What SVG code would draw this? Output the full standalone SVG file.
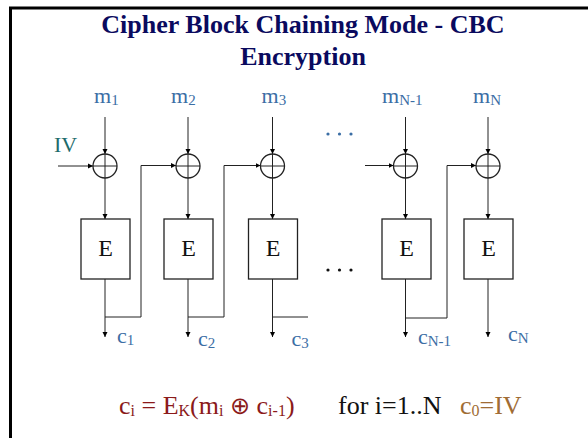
<svg xmlns="http://www.w3.org/2000/svg" width="588" height="438" viewBox="0 0 588 438">
<defs>
<marker id="ah" markerWidth="6" markerHeight="6" refX="5" refY="3" orient="auto" markerUnits="userSpaceOnUse">
<path d="M0,0.5 L5,3 L0,5.5 Z" fill="#000"/>
</marker>
<style>
.t{font-family:"Liberation Serif","Times New Roman",serif}
.title{font-size:26px;font-weight:bold;fill:#0a0a5e;text-anchor:middle}
.lab{font-size:22px;fill:#3b6ea5}
.sub{font-size:15px}
.ln{stroke:#222;stroke-width:1;fill:none}
.box{stroke:#222;stroke-width:1.3;fill:#fff}
.xor{stroke:#222;stroke-width:1.3;fill:#fff}
.e{font-size:24px;fill:#111;text-anchor:middle}
</style>
</defs>
<rect x="0" y="0" width="588" height="438" fill="#fff"/>
<rect x="10.5" y="8" width="620" height="460" fill="none" stroke="#000" stroke-width="3"/>
<g id="title" class="t title">
<text x="303" y="33">Cipher Block Chaining Mode - CBC</text>
<text x="303" y="65">Encryption</text>
</g>
<g id="connectors">
<line class="ln" x1="105" y1="117" x2="105" y2="154" marker-end="url(#ah)"/>
<line class="ln" x1="188" y1="117" x2="188" y2="154" marker-end="url(#ah)"/>
<line class="ln" x1="272.5" y1="117" x2="272.5" y2="154" marker-end="url(#ah)"/>
<line class="ln" x1="405.5" y1="117" x2="405.5" y2="154" marker-end="url(#ah)"/>
<line class="ln" x1="488" y1="117" x2="488" y2="154" marker-end="url(#ah)"/>
<line class="ln" x1="105" y1="178" x2="105" y2="219" marker-end="url(#ah)"/>
<line class="ln" x1="188" y1="178" x2="188" y2="219" marker-end="url(#ah)"/>
<line class="ln" x1="272.5" y1="178" x2="272.5" y2="219" marker-end="url(#ah)"/>
<line class="ln" x1="405.5" y1="178" x2="405.5" y2="219" marker-end="url(#ah)"/>
<line class="ln" x1="488" y1="178" x2="488" y2="219" marker-end="url(#ah)"/>
<line class="ln" x1="105" y1="279" x2="105" y2="337" marker-end="url(#ah)"/>
<line class="ln" x1="188" y1="279" x2="188" y2="337" marker-end="url(#ah)"/>
<line class="ln" x1="272.5" y1="279" x2="272.5" y2="337" marker-end="url(#ah)"/>
<line class="ln" x1="405.5" y1="279" x2="405.5" y2="337" marker-end="url(#ah)"/>
<line class="ln" x1="488" y1="279" x2="488" y2="337" marker-end="url(#ah)"/>
<line class="ln" x1="58" y1="166" x2="93" y2="166" marker-end="url(#ah)"/>
<polyline class="ln" points="105,317 141,317 141,165.5 176,165.5" marker-end="url(#ah)"/>
<polyline class="ln" points="188,317 224,317 224,165.5 260.5,165.5" marker-end="url(#ah)"/>
<line class="ln" x1="272.5" y1="317" x2="308" y2="317"/>
<line class="ln" x1="365" y1="165.5" x2="393.5" y2="165.5" marker-end="url(#ah)"/>
<polyline class="ln" points="405.5,318 447,318 447,165.5 476,165.5" marker-end="url(#ah)"/>
</g>
<g id="xor1"><circle class="xor" cx="105" cy="166" r="12"/><path class="ln" d="M93,166H117M105,154V178"/></g>
<g id="xor2"><circle class="xor" cx="188" cy="166" r="12"/><path class="ln" d="M176,166H200M188,154V178"/></g>
<g id="xor3"><circle class="xor" cx="272.5" cy="166" r="12"/><path class="ln" d="M260.5,166H284.5M272.5,154V178"/></g>
<g id="xorN1"><circle class="xor" cx="405.5" cy="166" r="12"/><path class="ln" d="M393.5,166H417.5M405.5,154V178"/></g>
<g id="xorN"><circle class="xor" cx="488" cy="166" r="12"/><path class="ln" d="M476,166H500M488,154V178"/></g>
<g id="E1"><rect class="box" x="81" y="219" width="49" height="60"/><text class="t e" x="105.5" y="256">E</text></g>
<g id="E2"><rect class="box" x="164" y="219" width="49" height="60"/><text class="t e" x="188.5" y="256">E</text></g>
<g id="E3"><rect class="box" x="248.5" y="219" width="49" height="60"/><text class="t e" x="273" y="256">E</text></g>
<g id="EN1"><rect class="box" x="382" y="219" width="49" height="60"/><text class="t e" x="406.5" y="256">E</text></g>
<g id="EN"><rect class="box" x="464" y="219" width="49" height="60"/><text class="t e" x="488.5" y="256">E</text></g>
<g id="mlabels" class="t lab">
<text x="94" y="103">m<tspan class="sub" dy="2">1</tspan></text>
<text x="171" y="103">m<tspan class="sub" dy="2">2</tspan></text>
<text x="261.5" y="103">m<tspan class="sub" dy="2">3</tspan></text>
<text x="382" y="103">m<tspan class="sub" dy="2">N-1</tspan></text>
<text x="473" y="103">m<tspan class="sub" dy="2">N</tspan></text>
</g>
<g id="clabels" class="t lab">
<text x="117" y="343">c<tspan class="sub" dy="2">1</tspan></text>
<text x="198" y="346">c<tspan class="sub" dy="2">2</tspan></text>
<text x="291.5" y="346">c<tspan class="sub" dy="2">3</tspan></text>
<text x="418" y="344">c<tspan class="sub" dy="2">N-1</tspan></text>
<text x="508" y="341">c<tspan class="sub" dy="2">N</tspan></text>
</g>
<g id="iv"><text class="t" x="54" y="152" font-size="22" fill="#1c6b6b">IV</text></g>
<g id="dots-top" fill="#3b6ea5"><circle cx="328" cy="134" r="1.6"/><circle cx="339.5" cy="134" r="1.6"/><circle cx="351" cy="134" r="1.6"/></g>
<g id="dots-bottom" fill="#111"><circle cx="328" cy="270" r="1.6"/><circle cx="339.5" cy="270" r="1.6"/><circle cx="351" cy="270" r="1.6"/></g>
<g id="formula" class="t" font-size="26">
<text x="119" y="414" fill="#8b1a1a">c<tspan font-size="16" dy="2">i</tspan><tspan dy="-2"> = E</tspan><tspan font-size="16" dy="2">K</tspan><tspan dy="-2">(m</tspan><tspan font-size="16" dy="2">i</tspan><tspan dy="-2"> </tspan><tspan font-family="DejaVu Sans, sans-serif" font-size="24">⊕</tspan><tspan> c</tspan><tspan font-size="16" dy="2">i-1</tspan><tspan dy="-2">)</tspan></text>
<text x="338" y="414" fill="#111">for i=1..N</text>
<text x="460" y="414" fill="#a06c34">c<tspan font-size="16" dy="2">0</tspan><tspan dy="-2">=IV</tspan></text>
</g>
</svg>
